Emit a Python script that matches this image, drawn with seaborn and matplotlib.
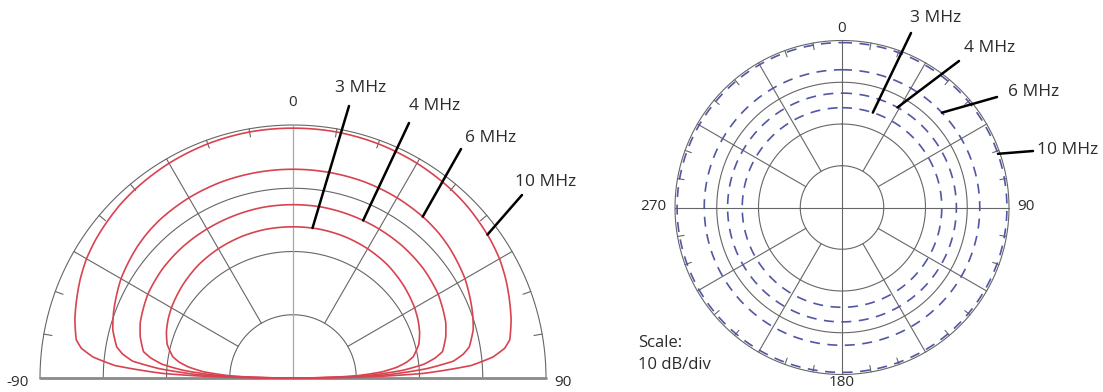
import numpy as np
import pandas as pd
import matplotlib
matplotlib.use("Agg")
import matplotlib.pyplot as plt
import seaborn as sns

# ---- data -------------------------------------------------------------
freqs = ["3 MHz", "4 MHz", "6 MHz", "10 MHz"]

# elevation angle from zenith (deg); pattern is symmetric about 0
elev_deg = [0, 5, 10, 15, 20, 25, 30, 35, 40, 45, 50, 55, 60, 65, 70, 75,
            80, 82, 84, 86, 88, 89, 90]
gain_3mhz = [-16.1, -16.1, -16.1, -16.15, -16.2, -16.3, -16.4, -16.55, -16.7,
             -16.95, -17.2, -17.5, -17.8, -18.2, -18.7, -19.4,
             -20.7, -21.8, -23.4, -25.8, -30.0, -34.0, -40.0]
gain_4mhz = [-12.6, -12.6, -12.6, -12.65, -12.7, -12.75, -12.8, -12.85, -12.9,
             -13.0, -13.1, -13.3, -13.5, -13.9, -14.3, -15.0,
             -16.0, -17.3, -19.2, -22.6, -28.0, -33.0, -40.0]
gain_6mhz = [-7.0, -7.0, -7.0, -7.0, -7.0, -7.05, -7.1, -7.2, -7.3,
             -7.5, -7.8, -8.2, -8.6, -9.2, -9.8, -10.5,
             -11.7, -12.8, -14.5, -18.8, -25.0, -31.0, -40.0]
gain_10mhz = [-0.5, -0.5, -0.5, -0.55, -0.6, -0.7, -0.8, -0.95, -1.1,
              -1.3, -1.6, -1.9, -2.3, -2.9, -3.6, -4.3,
              -5.2, -6.2, -8.2, -11.8, -19.5, -27.0, -40.0]
elev_gains = [gain_3mhz, gain_4mhz, gain_6mhz, gain_10mhz]

# azimuth pattern: omnidirectional level for each frequency (dB)
azim_db = [-16.1, -12.6, -7.0, -0.5]

# ---- style ------------------------------------------------------------
sns.set_theme(style="white")
plt.rcParams["font.family"] = ["Open Sans", "DejaVu Sans"]

W, H = 1103, 392
fig = plt.figure(figsize=(W / 100, H / 100), dpi=100)

GRID = "#666666"
RED = "#d8434f"
BLUE = "#5257a3"
TXT = "#2b2b2b"
RMIN, RMAX = -40, 0


def polar_axes(cx, cy, R):
    """Polar axes centred at image pixel (cx, cy) with outer radius R px."""
    ax = fig.add_axes([(cx - R) / W, (H - cy - R) / H, 2 * R / W, 2 * R / H],
                      projection="polar")
    ax.set_theta_zero_location("N")
    ax.set_theta_direction(-1)
    ax.set_ylim(RMIN, RMAX)
    ax.grid(False)
    ax.set_xticks([])
    ax.set_yticks([])
    ax.spines["polar"].set_visible(False)
    ax.patch.set_alpha(0)
    return ax


def seg(ax, deg, r0, r1, **kw):
    t = np.deg2rad(deg)
    ax.plot([t, t], [r0, r1], clip_on=False, **kw)


def arc(ax, r, d0, d1, **kw):
    t = np.deg2rad(np.linspace(d0, d1, 721))
    ax.plot(t, np.full_like(t, r), clip_on=False, **kw)


def curved(line, steps=24):
    # draw each segment along the polar grid instead of as a straight chord
    line.get_path()._interpolation_steps = steps


def label(x, y, s, fs=11, ha="center"):
    fig.text(x / W, 1 - y / H, s, ha=ha, va="center", fontsize=fs, color=TXT)


def callout(ax, text, tip_deg, tip_db, start_px, text_px, fs=12.5):
    ax.annotate("", xy=(np.deg2rad(tip_deg), tip_db), xycoords="data",
                xytext=(start_px[0], H - start_px[1]), textcoords="figure pixels",
                arrowprops=dict(arrowstyle="-", color="black", lw=1.8,
                                shrinkA=0, shrinkB=0), annotation_clip=False)
    label(text_px[0], text_px[1], text, fs=fs)


# ---- elevation pattern (half plane) ------------------------------------
axL = polar_axes(293, 378, 253)
for r in (-30, -20, -10, 0):
    arc(axL, r, -90, 90, color=GRID, lw=0.8)
seg(axL, 0, RMIN, RMAX, color="#a8a8a8", lw=0.9)
for d in (-60, -30, 30, 60):
    seg(axL, d, -30, RMAX, color=GRID, lw=0.8)
for d in (-90, 90):
    seg(axL, d, RMIN, RMAX, color="#8a8a8a", lw=2.0)
for d in range(-80, 90, 10):
    if d % 30:
        seg(axL, d, RMAX - 1.3, RMAX, color=GRID, lw=0.8)

elev = np.array(elev_deg, dtype=float)
theta_full = np.concatenate([-elev[::-1], elev[1:]])
for name, g in zip(freqs, elev_gains):
    g = np.asarray(g, dtype=float)
    vals = np.concatenate([g[::-1], g[1:]])
    df = pd.DataFrame({"theta": np.deg2rad(theta_full), "gain": vals})
    sns.lineplot(data=df, x="theta", y="gain", ax=axL, sort=False,
                 estimator=None, color=RED, lw=1.2)
    curved(axL.lines[-1])
axL.set_xlabel("")
axL.set_ylabel("")

label(293, 103, "0")
label(18, 383, "-90")
label(563, 383, "90")

left_tips = [7.4, 24.0, 38.8, 53.6]
left_starts = [(349, 106), (409, 123), (461, 149), (522, 195)]
left_texts = [(361, 88), (435, 106), (491, 138), (546, 182)]
for name, g, td, sp, tp in zip(freqs, elev_gains, left_tips, left_starts, left_texts):
    callout(axL, name, td, np.interp(td, elev_deg, g), sp, tp)

# ---- azimuth pattern (full circle) -------------------------------------
axR = polar_axes(842, 207.5, 167)
for r in (-30, -20, -10, 0):
    arc(axR, r, 0, 360, color=GRID, lw=0.8)
for d in (0, 90, 180, 270):
    seg(axR, d, RMIN, RMAX, color=GRID, lw=0.8)
for d in range(30, 360, 30):
    if d % 90:
        seg(axR, d, -30, RMAX, color=GRID, lw=0.8)
for d in range(0, 360, 10):
    if d % 30:
        seg(axR, d, RMAX - 1.6, RMAX, color=GRID, lw=0.8)

t_circ = np.linspace(0, 2 * np.pi, 721)
for name, level in zip(freqs, azim_db):
    df = pd.DataFrame({"theta": t_circ, "gain": np.full_like(t_circ, level)})
    sns.lineplot(data=df, x="theta", y="gain", ax=axR, sort=False,
                 estimator=None, color=BLUE, lw=1.2, dashes=False,
                 linestyle=(0, (6, 4.5)))
axR.set_xlabel("")
axR.set_ylabel("")

label(842, 28, "0")
label(653, 207, "270")
label(1026, 207, "90")
label(842, 383, "180")
label(638, 343, "Scale:", fs=12, ha="left")
label(638, 365, "10 dB/div", fs=12, ha="left")

right_tips = [18.0, 29.0, 46.5, 71.0]
right_starts = [(911, 33), (959, 61), (997, 97), (1033, 151)]
right_texts = [(936, 18), (990, 48), (1034, 92), (1068, 150)]
for name, level, td, sp, tp in zip(freqs, azim_db, right_tips, right_starts, right_texts):
    callout(axR, name, td, level, sp, tp)

fig.savefig("out.png", dpi=100, facecolor="white")
